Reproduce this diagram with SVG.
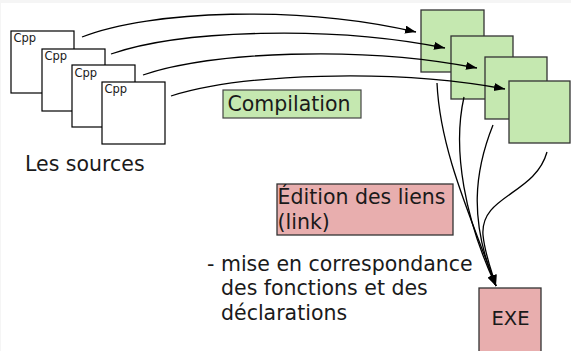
<svg xmlns="http://www.w3.org/2000/svg" width="571" height="351" viewBox="0 0 571 351">
<style>
text{font-family:"DejaVu Sans","Liberation Sans",sans-serif;fill:#1a1a1a}
.src{fill:#ffffff;stroke:#000;stroke-width:1.2}
.cpp{font-size:11.5px}
.big{font-size:20.5px}
.obj{fill:#c5e8b0;stroke:#333;stroke-width:1.3}
.pink{fill:#e8aeae;stroke:#333;stroke-width:1.3}
.lbl{fill:#c5e8b0;stroke:#444;stroke-width:1.2}
.edge{fill:none;stroke:#000;stroke-width:1.3}
</style>
<defs>
<marker id="ah" markerUnits="userSpaceOnUse" markerWidth="12" markerHeight="9" refX="11" refY="4" orient="auto">
<path d="M0,0 L11,4 L0,8 z" fill="#000"/>
</marker>
</defs>
<rect x="0" y="0" width="571" height="351" fill="#f5f5f5"/>
<rect x="1" y="3" width="570" height="348" fill="#ffffff"/>
<g id="sources">
<g id="src1"><rect class="src" x="11" y="31" width="63" height="62"/><text class="cpp" x="13.4" y="42">Cpp</text></g>
<g id="src2"><rect class="src" x="42" y="49" width="63" height="62"/><text class="cpp" x="44.4" y="59.5">Cpp</text></g>
<g id="src3"><rect class="src" x="72" y="65" width="63" height="62"/><text class="cpp" x="74.4" y="76.5">Cpp</text></g>
<g id="src4"><rect class="src" x="102" y="82" width="63" height="62"/><text class="cpp" x="104.4" y="93">Cpp</text></g>
</g>
<g id="les-sources"><text class="big" x="25" y="171">Les sources</text></g>
<g id="objs">
<g id="obj1"><rect class="obj" x="421" y="10" width="63" height="62"/></g>
<g id="obj2"><rect class="obj" x="451" y="36" width="62" height="63"/></g>
<g id="obj3"><rect class="obj" x="485" y="57" width="62" height="62"/></g>
<g id="obj4"><rect class="obj" x="509" y="81" width="61" height="62"/></g>
</g>
<g id="compilation"><rect class="lbl" x="223" y="90" width="138" height="28"/><text class="big" x="227.5" y="111">Compilation</text></g>
<g id="edition"><rect class="pink" x="277" y="184" width="176" height="51"/><text class="big" x="277.5" y="204">Édition des liens</text><text class="big" x="277.5" y="229">(link)</text></g>
<g id="note">
<text class="big" x="207" y="271">- mise en correspondance</text>
<text class="big" x="221" y="295">des fonctions et des</text>
<text class="big" x="221" y="320">déclarations</text>
</g>
<g id="exe"><rect class="pink" x="479" y="288" width="62" height="64"/><text class="big" x="510.5" y="325" text-anchor="middle" style="font-size:19.5px">EXE</text></g>
<g id="connectors">
<path class="edge" marker-end="url(#ah)" d="M82,37 C150,10 300,5 416,32"/>
<path class="edge" marker-end="url(#ah)" d="M111,54 C180,30 330,25 445,48"/>
<path class="edge" marker-end="url(#ah)" d="M143,75 C210,52 360,45 477,68"/>
<path class="edge" marker-end="url(#ah)" d="M171,96 C240,74 390,68 505,89"/>
<path class="edge" marker-end="url(#ah)" d="M437,83 C440,150 470,215 496,286"/>
<path class="edge" marker-end="url(#ah)" d="M464,97 C452,150 465,220 496,286"/>
<path class="edge" marker-end="url(#ah)" d="M493,125 C475,170 468,220 496,286"/>
<path class="edge" marker-end="url(#ah)" d="M547,152 C535,195 480,195 483,235 C485,255 492,272 496,286"/>
</g>
</svg>
